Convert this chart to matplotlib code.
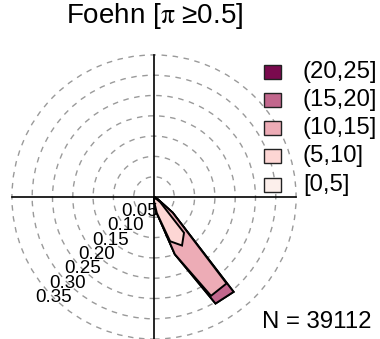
import matplotlib
matplotlib.use("Agg")
import matplotlib.pyplot as plt
import numpy as np
from matplotlib.patches import Circle, Polygon, Rectangle

plt.rcParams["font.family"] = ["Liberation Sans", "DejaVu Sans"]
plt.rcParams["mathtext.fontset"] = "stix"

# wind direction bins (deg, centre of 10 deg sector) with non-zero frequency
directions = [120, 130, 140, 150, 160, 170, 180]

# relative frequency per speed class and direction bin
freq_0_5 = [0.000, 0.002, 0.005, 0.005, 0.004, 0.002, 0.000]
freq_5_10 = [0.000, 0.018, 0.110, 0.133, 0.112, 0.038, 0.010]
freq_10_15 = [0.010, 0.040, 0.163, 0.143, 0.034, 0.000, 0.000]
freq_15_20 = [0.000, 0.000, 0.027, 0.022, 0.000, 0.000, 0.000]
freq_20_25 = [0.000, 0.000, 0.000, 0.000, 0.000, 0.000, 0.000]

class_labels = ["[0,5]", "(5,10]", "(10,15]", "(15,20]", "(20,25]"]
class_colors = ["#FCEFEB", "#FDD6D4", "#EDACB6", "#C2678D", "#7A0A4E"]
rings = [0.05, 0.10, 0.15, 0.20, 0.25, 0.30, 0.35]
n_obs = 39112

# all 36 sectors, zero where nothing was observed
all_dirs = np.arange(0, 360, 10)
classes = [freq_0_5, freq_5_10, freq_10_15, freq_15_20, freq_20_25]
full = np.zeros((len(classes), len(all_dirs)))
for i, vals in enumerate(classes):
    for d, v in zip(directions, vals):
        full[i, d // 10] = v
cumulative = np.cumsum(full, axis=0)

W, H = 380, 339
scale = 406.0  # pixels per frequency unit
cx, cy = 154, 197
fig = plt.figure(figsize=(W / 100, H / 100), dpi=100)
ax = fig.add_axes([0, 0, 1, 1])
ax.set_xlim(-cx / scale, (W - cx) / scale)
ax.set_ylim(-(H - cy) / scale, cy / scale)
ax.axis("off")

rmax = rings[-1]
for r in rings:
    ax.add_patch(Circle((0, 0), r, fill=False, ls=(0, (4, 4)), lw=1.0,
                        color="#9a9a9a", zorder=1))
ax.plot([-rmax, rmax], [0, 0], color="black", lw=1.2, zorder=2)
ax.plot([0, 0], [-rmax, rmax], color="black", lw=1.2, zorder=2)

# stacked polygons, outermost class first
theta = np.deg2rad(all_dirs)
for i in range(len(classes) - 1, -1, -1):
    r = cumulative[i]
    xy = np.column_stack([r * np.sin(theta), r * np.cos(theta)])
    ax.add_patch(Polygon(xy, closed=True, facecolor=class_colors[i],
                         edgecolor="black", lw=1.4, joinstyle="miter", zorder=3))

# ring labels along the south-west diagonal
for r in rings:
    a = np.deg2rad(225)
    ax.text(r * np.sin(a), r * np.cos(a), f"{r:.2f}", ha="center", va="center",
            fontsize=13.5, zorder=4)

fig.text(155 / W, 1 - 16 / H, "Foehn [$\\mathrm{\\pi}$ \u22650.5]", ha="center",
         va="center", fontsize=20)

# legend
key_y = [72, 100, 128, 156, 185]
for j, i in enumerate(range(len(classes) - 1, -1, -1)):
    yc = key_y[j]
    fig.patches.append(Rectangle((263.5 / W, 1 - (yc + 7) / H), 17.5 / W, 14 / H,
                                 transform=fig.transFigure, facecolor=class_colors[i],
                                 edgecolor="#222222", lw=1.0))
    fig.text(303 / W, 1 - yc / H, class_labels[i], ha="left", va="center", fontsize=17.2)

fig.text(372 / W, 1 - 322 / H, f"N = {n_obs}", ha="right", va="center", fontsize=17.3)

fig.savefig("out.png", dpi=100)
plt.close(fig)
